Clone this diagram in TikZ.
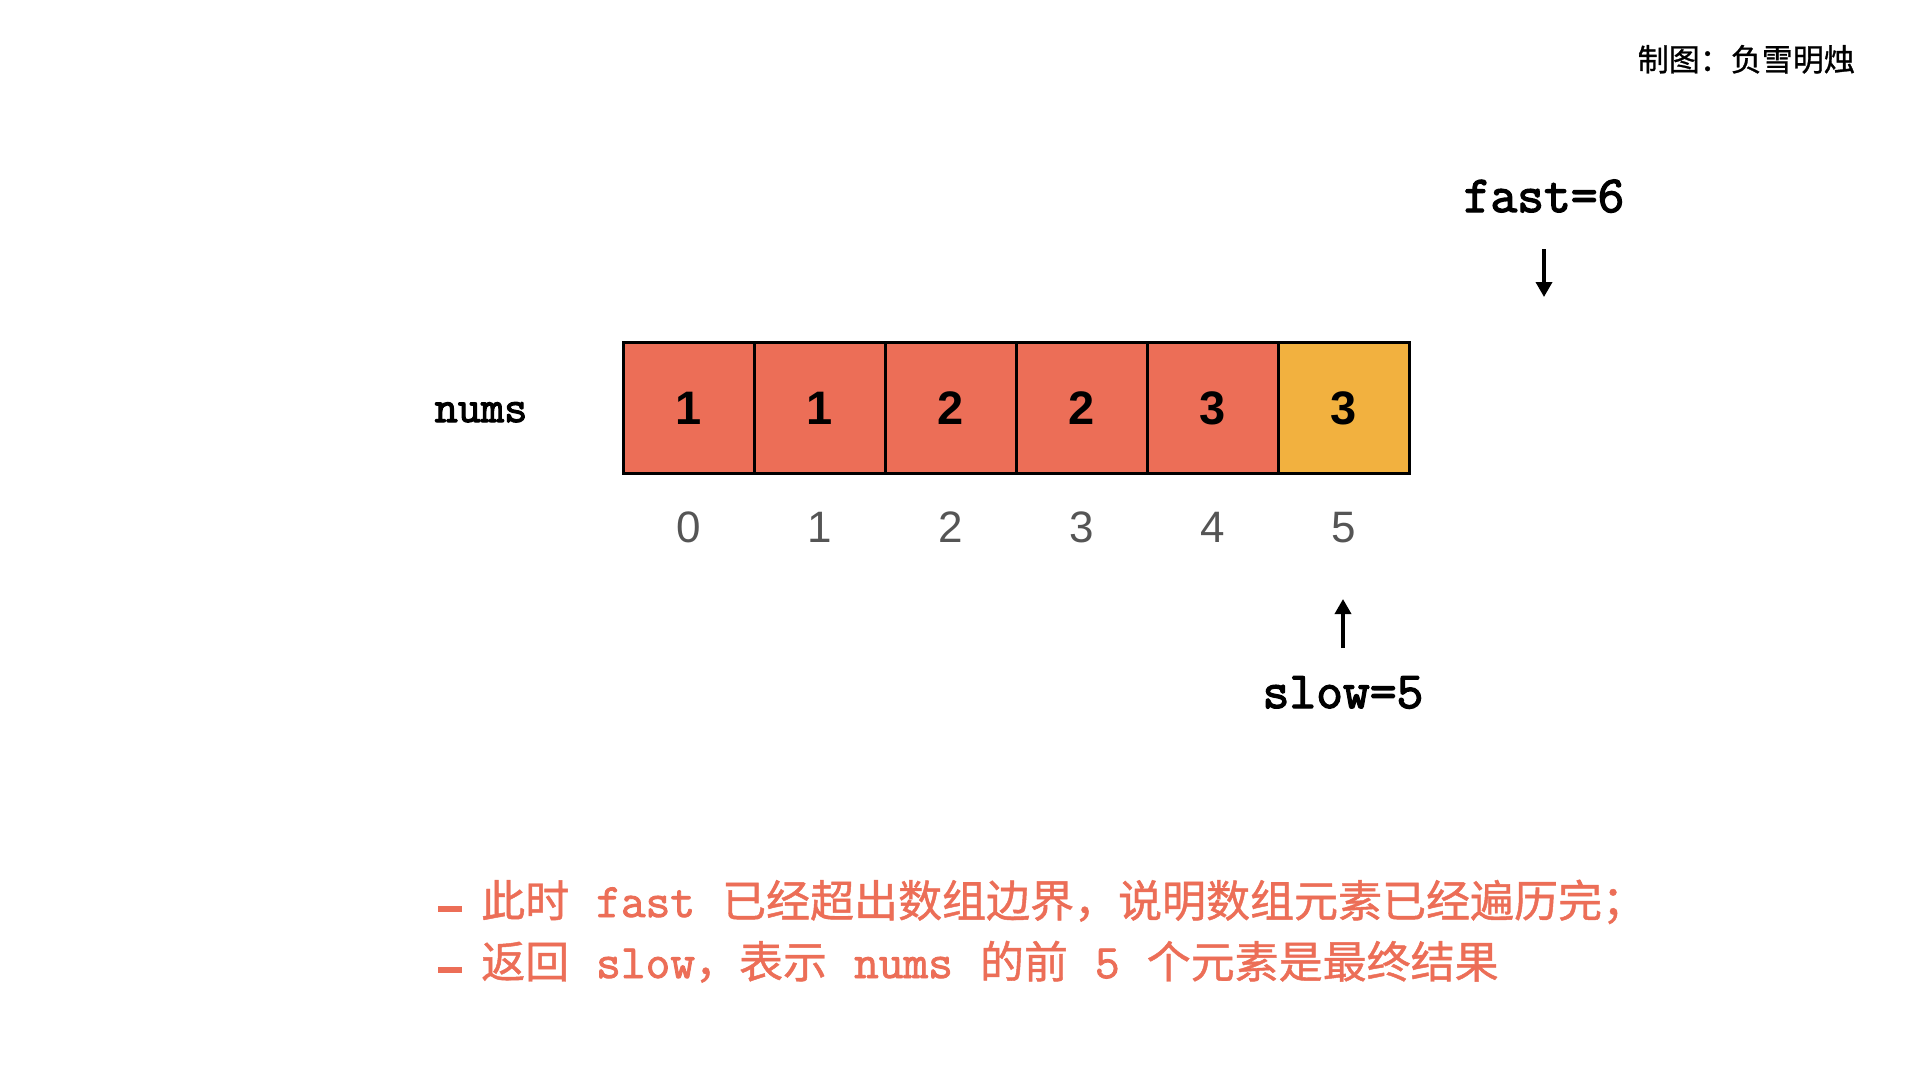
\documentclass[tikz,border=0pt]{standalone}
\usepackage{fontspec}
\setmainfont{Liberation Sans}
\newfontfamily\cjk{Noto Sans CJK SC}[FakeBold=1]
\newfontfamily\cour{Latin Modern Mono}[FakeBold=2.6]
\newfontfamily\courn{Latin Modern Mono}[FakeBold=1.8]
\usetikzlibrary{arrows.meta}
\definecolor{coral}{HTML}{EC6E57}
\definecolor{amber}{HTML}{F2B13F}
\definecolor{idxgray}{HTML}{555555}
\newcommand{\gapw}{\hspace{27pt}}
\newcommand{\bulletdash}{\rule[5pt]{24pt}{6pt}\hspace{19pt}}
\newcommand{\mw}[1]{{\courn\fontsize{48}{50}\selectfont #1}}
\begin{document}
\begin{tikzpicture}[x=1pt,y=-1pt,
  cell/.style={draw=black,line width=3pt,minimum width=131pt,minimum height=131pt,inner sep=0pt,font=\fontsize{47}{50}\selectfont\bfseries},
  idx/.style={text=idxgray,anchor=base,inner sep=0pt,font=\fontsize{44}{50}\selectfont},
  lbl/.style={anchor=base,inner sep=0pt,font=\cour\fontsize{52}{56}\selectfont},
  ptr/.style={line width=3.5pt,-{Triangle[length=15pt,width=16pt]}},
  note/.style={text=coral,anchor=base west,inner sep=0pt,font=\cjk\fontsize{44}{50}\selectfont}]
\useasboundingbox (0,0) rectangle (1920,1080);
\fill[white] (0,0) rectangle (1920,1080);

% title
\node[anchor=base east,inner sep=0pt,font=\cjk\fontsize{31}{34}\selectfont] (title) at (1855,71) {制图：负雪明烛};

% array label
\node[anchor=base,inner sep=0pt,font=\cour\fontsize{45}{48}\selectfont] (nums) at (481,422) {nums};

% cells
\node[cell,fill=coral] (c0) at (688.5,408) {1};
\node[cell,fill=coral] (c1) at (819.5,408) {1};
\node[cell,fill=coral] (c2) at (950.5,408) {2};
\node[cell,fill=coral] (c3) at (1081.5,408) {2};
\node[cell,fill=coral] (c4) at (1212.5,408) {3};
\node[cell,fill=amber] (c5) at (1343.5,408) {3};

% indices
\node[idx] (i0) at (688.5,542) {0};
\node[idx] (i1) at (819.5,542) {1};
\node[idx] (i2) at (950.5,542) {2};
\node[idx] (i3) at (1081.5,542) {3};
\node[idx] (i4) at (1212.5,542) {4};
\node[idx] (i5) at (1343.5,542) {5};

% pointers
\node[lbl] (fast) at (1544,212) {fast=6};
\coordinate (fa) at (1544,249);
\coordinate (fb) at (1544,297);
\draw[ptr] (fa) -- (fb);

\node[lbl] (slow) at (1343,708) {slow=5};
\coordinate (sa) at (1343,648);
\coordinate (sb) at (1343,599);
\draw[ptr] (sa) -- (sb);

% notes
\node[note] (n1) at (438,917) {\bulletdash 此时\gapw\mw{fast}\gapw 已经超出数组边界，说明数组元素已经遍历完；};
\node[note] (n2) at (438,978) {\bulletdash 返回\gapw\mw{slow}，表示\gapw\mw{nums}\gapw 的前\gapw\mw{5}\gapw 个元素是最终结果};
\end{tikzpicture}
\end{document}
